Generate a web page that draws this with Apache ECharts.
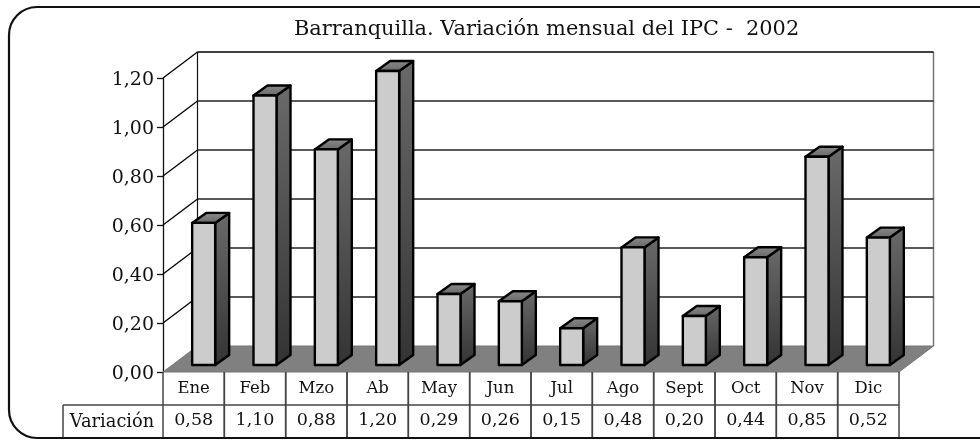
<!DOCTYPE html>
<html>
<head>
<meta charset="utf-8">
<title>Barranquilla IPC 2002</title>
<script src="https://cdn.jsdelivr.net/npm/echarts@6/dist/echarts.min.js"></script>
<style>
  html, body { margin: 0; padding: 0; background: #fff; overflow: hidden; }
  #chart { width: 980px; height: 440px; }
</style>
</head>
<body>
<div id="chart"></div>
<script>
const titleText = 'Barranquilla. Variación mensual del IPC -  2002'
const rowName = 'Variación'
const categories = ['Ene', 'Feb', 'Mzo', 'Ab', 'May', 'Jun', 'Jul', 'Ago', 'Sept', 'Oct', 'Nov', 'Dic']
const values = [0.58, 1.10, 0.88, 1.20, 0.29, 0.26, 0.15, 0.48, 0.20, 0.44, 0.85, 0.52]
const yTicks = [0, 0.2, 0.4, 0.6, 0.8, 1.0, 1.2]

const FONT = '"DejaVu Serif", serif'
// oblique offsets of the fake 3d box, in pixels
const WALL_DX = 34.5
const WALL_DY = 26
const BAR_DX = 14
const BAR_DY = 10
const BAR_SHIFT_X = 10
const BAR_SHIFT_Y = 7
const BAR_HALF = 11.5
const ROW_H = 33

const comma = v => v.toFixed(2).replace('.', ',')
const line = (x1, y1, x2, y2, stroke, lineWidth) => ({
  type: 'line',
  shape: { x1, y1, x2, y2 },
  style: { stroke, lineWidth, fill: null }
})
const label = (text, x, y, fontSize) => ({
  type: 'text',
  style: { text, x, y, align: 'center', verticalAlign: 'middle', fontFamily: FONT, fontSize, fill: '#111' }
})

// back wall, grid lines and floor
function renderWall(params, api) {
  const tick = api.value(0)
  const last = categories.length - 1
  const w = api.size([1, 0])[0]
  const left = api.coord([0, tick])[0] - w / 2
  const right = api.coord([last, tick])[0] + w / 2
  const y = api.coord([0, tick])[1]
  const isTop = tick === yTicks[yTicks.length - 1]
  const children = []
  if (tick === 0) {
    children.push({
      type: 'polygon',
      shape: { points: [[left, y], [left + WALL_DX, y - WALL_DY], [right + WALL_DX, y - WALL_DY], [right, y]] },
      style: { fill: '#808080', stroke: '#777', lineWidth: 1 }
    })
    const top = api.coord([0, yTicks[yTicks.length - 1]])[1]
    children.push(line(left + WALL_DX, top - WALL_DY, left + WALL_DX, y - WALL_DY, '#111', 1.2))
    children.push(line(right + WALL_DX, top - WALL_DY, right + WALL_DX, y - WALL_DY, '#777', 1.5))
  } else {
    children.push(line(left, y, left + WALL_DX, y - WALL_DY, '#000', 1.3))
    children.push(line(left + WALL_DX, y - WALL_DY, right + WALL_DX, y - WALL_DY, isTop ? '#000' : '#222', isTop ? 1.6 : 1.3))
  }
  return { type: 'group', children }
}

function renderBar(params, api) {
  const p = api.coord([api.value(0), api.value(1)])
  const base = api.coord([api.value(0), 0])
  const x0 = p[0] + BAR_SHIFT_X - BAR_HALF
  const x1 = p[0] + BAR_SHIFT_X + BAR_HALF
  const yt = p[1] - BAR_SHIFT_Y
  const yb = base[1] - BAR_SHIFT_Y
  const edge = { stroke: '#000', lineWidth: 2.4, lineJoin: 'round' }
  return {
    type: 'group',
    children: [
      {
        type: 'polygon',
        shape: { points: [[x1, yt], [x1 + BAR_DX, yt - BAR_DY], [x1 + BAR_DX, yb - BAR_DY], [x1, yb]] },
        style: Object.assign({
          fill: new echarts.graphic.LinearGradient(0, 0, 0, 1, [
            { offset: 0, color: '#6a6a6a' },
            { offset: 1, color: '#333333' }
          ])
        }, edge)
      },
      {
        type: 'polygon',
        shape: { points: [[x0, yt], [x1, yt], [x1 + BAR_DX, yt - BAR_DY], [x0 + BAR_DX, yt - BAR_DY]] },
        style: Object.assign({
          fill: new echarts.graphic.LinearGradient(0, 0, 0, 1, [
            { offset: 0, color: '#8c8c8c' },
            { offset: 1, color: '#666666' }
          ])
        }, edge)
      },
      {
        type: 'rect',
        shape: { x: x0, y: yt, width: x1 - x0, height: yb - yt },
        style: Object.assign({ fill: '#cccccc' }, edge)
      }
    ]
  }
}

// data table under the plot
function renderTable(params, api) {
  const i = api.value(0)
  const w = api.size([1, 0])[0]
  const p = api.coord([i, 0])
  const left = p[0] - w / 2
  const y = p[1]
  const rowLine = '#444'
  const children = [
    line(left, y, left, y + ROW_H * 2, rowLine, 1.5),
    line(left + w, y, left + w, y + ROW_H * 2, rowLine, 1.5),
    line(left, y + ROW_H, left + w, y + ROW_H, rowLine, 1.5),
    label(categories[i], p[0], y + ROW_H / 2 + 0.5, 16.5),
    label(comma(api.value(1)), p[0], y + ROW_H * 1.5 - 1, 17.5)
  ]
  if (i === 0) {
    const nameW = 100
    children.push(line(left - nameW, y + ROW_H, left, y + ROW_H, rowLine, 1.5))
    children.push(line(left - nameW, y + ROW_H, left - nameW, y + ROW_H * 2, rowLine, 1.5))
    children.push(label(rowName, left - nameW / 2 - 1, y + ROW_H * 1.5 + 1, 17.8))
  }
  return { type: 'group', children }
}

const myChart = echarts.init(document.getElementById('chart'), null, { renderer: 'canvas' })
myChart.setOption({
  animation: false,
  backgroundColor: '#fff',
  title: {
    text: titleText,
    left: 289,
    top: 14,
    textStyle: { fontFamily: FONT, fontSize: 20.9, fontWeight: 'normal', color: '#111' }
  },
  grid: { left: 163, right: 81, top: 78, bottom: 68 },
  xAxis: { type: 'category', data: categories, show: false },
  yAxis: {
    type: 'value',
    min: 0,
    max: 1.2,
    interval: 0.2,
    axisLine: { show: true, lineStyle: { color: '#111', width: 1.3 } },
    axisTick: { show: true, length: 6, lineStyle: { color: '#111', width: 1.3 } },
    splitLine: { show: false },
    axisLabel: {
      color: '#111',
      margin: 9,
      formatter: v => '{t|' + comma(v) + '}',
      rich: { t: { fontFamily: FONT, fontSize: 19, color: '#111', padding: [5, 0, 0, 0] } }
    }
  },
  graphic: [{
    type: 'rect',
    shape: { x: 9, y: 7, width: 1000, height: 431, r: 28 },
    style: { fill: 'none', stroke: '#111', lineWidth: 2.2 },
    z: 10
  }],
  series: [
    { type: 'custom', z: 1, renderItem: renderWall, data: yTicks.map(t => [t]), encode: { y: 0 }, silent: true },
    { type: 'custom', z: 3, renderItem: renderBar, data: values.map((v, i) => [i, v]), encode: { x: 0, y: 1 }, silent: true },
    { type: 'custom', z: 4, renderItem: renderTable, data: values.map((v, i) => [i, v]), encode: { x: 0, y: 1 }, silent: true }
  ]
})
</script>
</body>
</html>
